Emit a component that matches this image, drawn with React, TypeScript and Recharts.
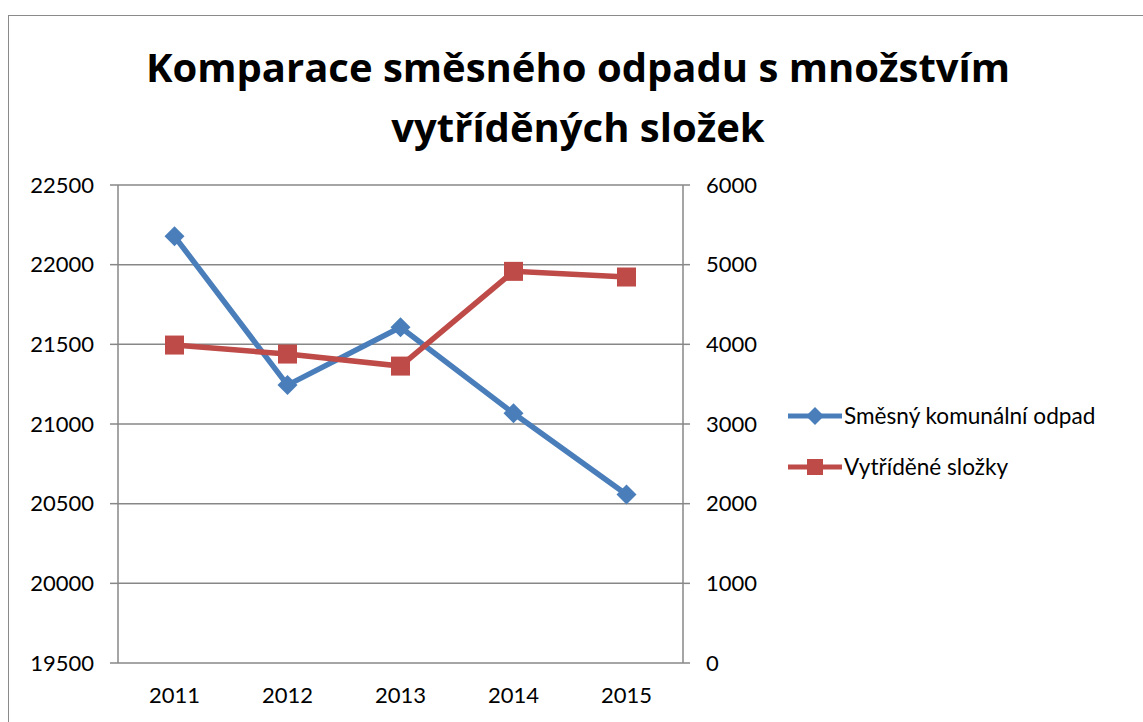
import { LineChart, Line, XAxis, YAxis, CartesianGrid, Legend } from "recharts";

const FONT = "Lato, 'Open Sans', sans-serif";
const TITLE_FONT = "'Open Sans', Lato, sans-serif";
const GRID = "#878787";
const BLUE = "#4a7ebb";
const RED = "#be4b48";

const years = ["2011", "2012", "2013", "2014", "2015"];
const mixedWaste = [22178, 21244, 21607, 21067, 20558];
const sortedWaste = [3991, 3878, 3727, 4916, 4845];
const leftTicks = [19500, 20000, 20500, 21000, 21500, 22000, 22500];
const rightTicks = [0, 1000, 2000, 3000, 4000, 5000, 6000];
const edgeTicks = [0, 1, 2, 3, 4, 5];

const data = years.map((year, i) => ({
  year,
  slot: i + 0.5,
  mixed: mixedWaste[i],
  sorted: sortedWaste[i],
}));

const series = [
  { key: "mixed", name: "Směsný komunální odpad", color: BLUE, shape: "diamond" },
  { key: "sorted", name: "Vytříděné složky", color: RED, shape: "square" },
];

function Marker({ cx, cy, shape, color, r }: { cx: number; cy: number; shape: string; color: string; r: number }) {
  if (shape === "diamond") {
    return <polygon points={`${cx},${cy - r} ${cx + r},${cy} ${cx},${cy + r} ${cx - r},${cy}`} fill={color} />;
  }
  return <rect x={cx - r} y={cy - r} width={r * 2} height={r * 2} fill={color} />;
}

function LegendBox() {
  return (
    <div style={{ fontFamily: FONT, fontSize: 22.6, color: "#000" }}>
      {series.map((s) => (
        <div key={s.key} style={{ display: "flex", alignItems: "center", height: 51 }}>
          <svg width={58} height={24}>
            <line x1={2} y1={12} x2={56} y2={12} stroke={s.color} strokeWidth={5} />
            <Marker cx={29} cy={12} shape={s.shape} color={s.color} r={s.shape === "diamond" ? 9 : 8} />
          </svg>
          <span>{s.name}</span>
        </div>
      ))}
    </div>
  );
}

const tickStyle = { fontFamily: FONT, fontSize: 22, fill: "#000" };

export default function App() {
  return (
    <div style={{ position: "absolute", left: 0, top: 0, width: 1143, height: 722, overflow: "hidden", background: "#fff" }}>
      <div style={{ position: "absolute", left: 8, top: 15, width: 1160, height: 740, border: "1px solid #8a8a8a", boxSizing: "border-box" }} />
      <div
        style={{
          position: "absolute",
          left: 0,
          width: 1156,
          top: 37,
          textAlign: "center",
          fontFamily: TITLE_FONT,
          fontWeight: "bold",
          fontSize: 40,
          lineHeight: "60px",
          color: "#000",
        }}
      >
        Komparace směsného odpadu s množstvím
        <br />
        vytříděných složek
      </div>
      <div style={{ position: "absolute", left: 0, top: 0 }}>
        <LineChart width={1143} height={722} data={data} margin={{ top: 185, right: 0, bottom: 0, left: 0 }}>
          <CartesianGrid yAxisId="left" vertical={false} stroke={GRID} strokeWidth={1.5} />
          <XAxis
            xAxisId="edges"
            type="number"
            dataKey="slot"
            domain={[0, 5]}
            ticks={edgeTicks}
            height={0}
            stroke={GRID}
            strokeWidth={1.5}
            tickSize={7}
            tick={() => <g />}
          />
          <XAxis
            xAxisId="labels"
            dataKey="year"
            height={59}
            padding={{ left: 56.5, right: 56.5 }}
            axisLine={false}
            tickLine={false}
            tickSize={0}
            tickMargin={24}
            tick={tickStyle}
          />
          <YAxis
            yAxisId="left"
            domain={[19500, 22500]}
            ticks={leftTicks}
            width={118}
            stroke={GRID}
            strokeWidth={1.5}
            tickSize={8}
            tickMargin={16}
            tick={tickStyle}
          />
          <YAxis
            yAxisId="right"
            orientation="right"
            domain={[0, 6000]}
            ticks={rightTicks}
            width={460}
            stroke={GRID}
            strokeWidth={1.5}
            tickSize={7}
            tickMargin={16}
            tick={{ ...tickStyle, textAnchor: "start" }}
          />
          <Legend
            layout="vertical"
            align="center"
            verticalAlign="middle"
            wrapperStyle={{ left: 786, top: 390, width: 350 }}
            content={() => <LegendBox />}
          />
          {series.map((s) => (
            <Line
              key={s.key}
              xAxisId="labels"
              yAxisId={s.key === "mixed" ? "left" : "right"}
              dataKey={s.key}
              name={s.name}
              stroke={s.color}
              strokeWidth={5.5}
              isAnimationActive={false}
              dot={(p: any) => <Marker key={p.index} cx={p.cx} cy={p.cy} shape={s.shape} color={s.color} r={s.shape === "diamond" ? 10 : 9.5} />}
              activeDot={false}
            />
          ))}
        </LineChart>
      </div>
    </div>
  );
}
